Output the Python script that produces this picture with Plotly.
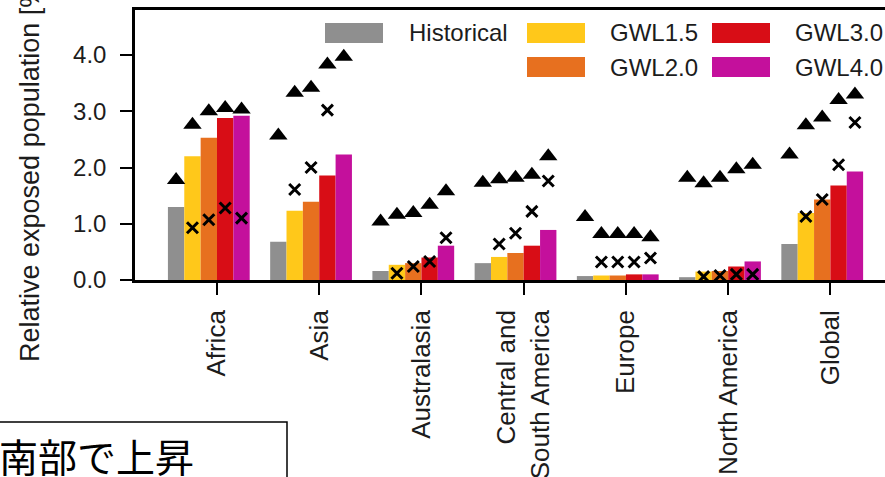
import numpy as np
import plotly.graph_objects as go

REGIONS = ["Africa", "Asia", "Australasia", "Central and<br>South America",
           "Europe", "North America", "Global"]
SERIES = ["Historical", "GWL1.5", "GWL2.0", "GWL3.0", "GWL4.0"]
COLORS = ["#8f8f8f", "#ffc81a", "#e7701f", "#d80d16", "#c4109c"]

# bar heights
HISTORICAL = [1.30, 0.68, 0.16, 0.30, 0.07, 0.05, 0.64]
GWL15 = [2.20, 1.23, 0.27, 0.41, 0.08, 0.15, 1.19]
GWL20 = [2.53, 1.39, 0.30, 0.48, 0.08, 0.16, 1.43]
GWL30 = [2.88, 1.86, 0.40, 0.61, 0.10, 0.24, 1.68]
GWL40 = [2.92, 2.23, 0.61, 0.89, 0.10, 0.33, 1.93]

# triangle markers
TRI_HIST = [1.78, 2.57, 1.04, 1.73, 1.12, 1.82, 2.23]
TRI_15 = [2.76, 3.33, 1.16, 1.79, 0.82, 1.72, 2.75]
TRI_20 = [3.00, 3.42, 1.19, 1.82, 0.82, 1.82, 2.89]
TRI_30 = [3.06, 3.83, 1.34, 1.87, 0.82, 1.97, 3.20]
TRI_40 = [3.03, 3.97, 1.58, 2.20, 0.76, 2.05, 3.30]

# cross markers (no cross for historical)
X_15 = [0.93, 1.61, 0.12, 0.64, 0.32, 0.06, 1.13]
X_20 = [1.07, 2.00, 0.24, 0.83, 0.32, 0.08, 1.43]
X_30 = [1.28, 3.02, 0.33, 1.22, 0.32, 0.10, 2.05]
X_40 = [1.10, None, 0.75, 1.76, 0.39, 0.10, 2.80]

BARS = [HISTORICAL, GWL15, GWL20, GWL30, GWL40]
TRIS = [TRI_HIST, TRI_15, TRI_20, TRI_30, TRI_40]
CROSSES = [None, X_15, X_20, X_30, X_40]

BAR_W = 0.16
OFFSETS = [-0.40, -0.24, -0.08, 0.08, 0.24]
FONT = "Liberation Sans, Arial, Helvetica, sans-serif"
INK = "#1c1c1c"

# plot area in pixels
L, R, T, B = 135, 885, 10, 280


def px_x(p):
    return (p - L) / (R - L)


def px_y(p):
    return (B - p) / (B - T)


idx = np.arange(len(REGIONS))
fig = go.Figure()

for name, vals, col, off in zip(SERIES, BARS, COLORS, OFFSETS):
    fig.add_trace(go.Bar(
        x=idx + off, y=vals, width=BAR_W, name=name,
        marker=dict(color=col, line=dict(width=0)),
        showlegend=False
    ))

for vals, off in zip(TRIS, OFFSETS):
    fig.add_trace(go.Scatter(
        x=idx + off, y=vals, mode="markers", showlegend=False,
        marker=dict(symbol="triangle-up", size=16, color="black")
    ))

for vals, off in zip(CROSSES, OFFSETS):
    if vals is None:
        continue
    fig.add_trace(go.Scatter(
        x=idx + off, y=vals, mode="markers", showlegend=False,
        marker=dict(symbol="x-thin", size=11, color="black",
                    line=dict(width=3, color="black"))
    ))

## LEGEND (drawn by hand, big swatches)
legend_pos = [(325, 23, 407), (527, 23, 608), (527, 57, 608), (712, 23, 793), (712, 57, 793)]
shapes = []
annotations = []
for name, col, (sx, sy, tx) in zip(SERIES, COLORS, legend_pos):
    shapes.append(dict(type="rect", xref="paper", yref="paper",
                       x0=px_x(sx), x1=px_x(sx + 58), y0=px_y(sy + 20), y1=px_y(sy),
                       fillcolor=col, line=dict(width=0)))
    annotations.append(dict(text=name, xref="paper", yref="paper",
                            x=px_x(tx), y=px_y(sy + 10), xanchor="left", yanchor="middle",
                            showarrow=False, font=dict(size=24, color=INK, family=FONT)))

# y title
annotations.append(dict(text="Relative exposed population [%]", textangle=-90,
                        xref="paper", yref="paper", x=px_x(30), y=px_y(364),
                        xanchor="center", yanchor="bottom", showarrow=False,
                        font=dict(size=27, color=INK, family=FONT)))

# japanese box at bottom left
shapes.append(dict(type="rect", xref="paper", yref="paper",
                   x0=px_x(-20), x1=px_x(287), y0=px_y(520), y1=px_y(422),
                   fillcolor="white", line=dict(color="black", width=1.5)))
annotations.append(dict(text="南部で上昇", xref="paper", yref="paper",
                        x=px_x(-3), y=px_y(455), xanchor="left", yanchor="middle",
                        showarrow=False,
                        font=dict(size=39, color="black", family="Noto Sans CJK JP")))

fig.update_layout(
    width=885, height=477,
    margin=dict(l=L, r=885 - R, t=T, b=477 - B),
    paper_bgcolor="white", plot_bgcolor="white",
    barmode="overlay",
    shapes=shapes, annotations=annotations,
    xaxis=dict(range=[-0.802, 6.534], tickvals=idx, ticktext=REGIONS,
               tickangle=-90, ticks="outside", ticklen=12, tickwidth=2, tickcolor="black",
               tickfont=dict(size=26, color=INK, family=FONT), ticklabelstandoff=5,
               showline=True, linecolor="black", linewidth=2.5, mirror=True,
               showgrid=False, zeroline=False, automargin=False),
    yaxis=dict(range=[0, 4.8], tickvals=[0, 1, 2, 3, 4],
               ticktext=["0.0", "1.0", "2.0", "3.0", "4.0"],
               ticks="outside", ticklen=12, tickwidth=2, tickcolor="black",
               tickfont=dict(size=24, color=INK, family=FONT), ticklabelstandoff=9,
               showline=True, linecolor="black", linewidth=2.5,
               showgrid=False, zeroline=False, automargin=False),
)

fig.write_html("out.html", config={"displayModeBar": False},
               post_script="document.body.style.margin='0';")
